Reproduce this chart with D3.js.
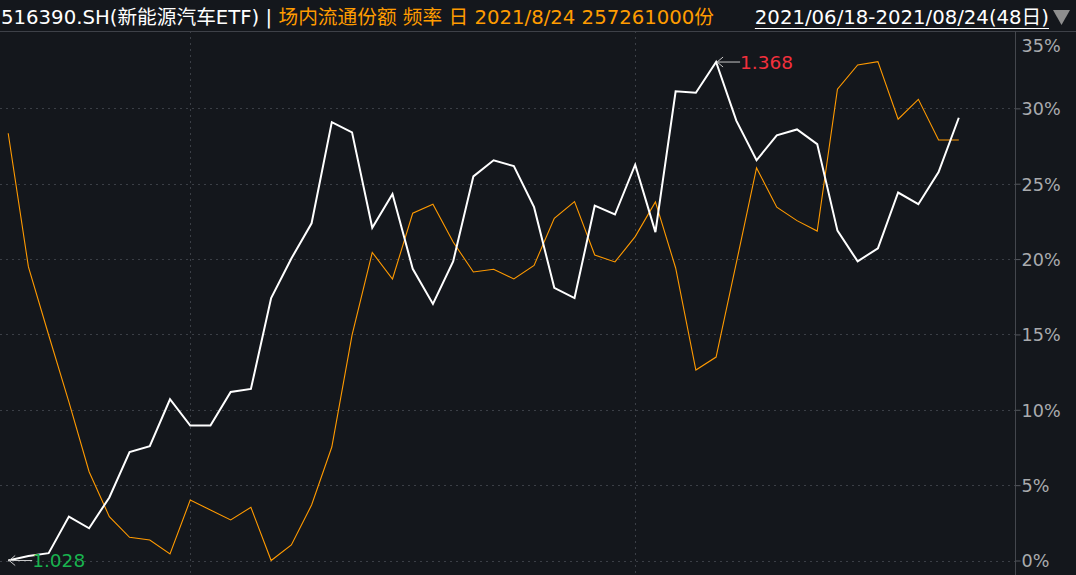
<!DOCTYPE html>
<html>
<head>
<meta charset="utf-8">
<script src="https://cdn.jsdelivr.net/npm/d3@7"></script>
<style>
  html, body { margin: 0; padding: 0; background: #14171c; }
  svg { display: block; }
</style>
</head>
<body>
<svg id="chart" width="1076" height="575"></svg>
<script>
// ---------------- data ----------------
const dates = [
  "2021-06-18","2021-06-21","2021-06-22","2021-06-23","2021-06-24","2021-06-25","2021-06-28","2021-06-29","2021-06-30",
  "2021-07-01","2021-07-02","2021-07-05","2021-07-06","2021-07-07","2021-07-08","2021-07-09","2021-07-12","2021-07-13",
  "2021-07-14","2021-07-15","2021-07-16","2021-07-19","2021-07-20","2021-07-21","2021-07-22","2021-07-23","2021-07-26",
  "2021-07-27","2021-07-28","2021-07-29","2021-07-30","2021-08-02","2021-08-03","2021-08-04","2021-08-05","2021-08-06",
  "2021-08-09","2021-08-10","2021-08-11","2021-08-12","2021-08-13","2021-08-16","2021-08-17","2021-08-18","2021-08-19",
  "2021-08-20","2021-08-23","2021-08-24"
];
// ETF close price (white line, shown as % change from the first close)
const closePrice = [
  1.028,1.031,1.033,1.058,1.050,1.071,1.102,1.106,1.138,
  1.120,1.120,1.143,1.145,1.207,1.234,1.258,1.327,1.320,
  1.255,1.278,1.227,1.203,1.232,1.290,1.301,1.297,1.269,
  1.214,1.207,1.270,1.264,1.298,1.252,1.348,1.347,1.368,
  1.328,1.301,1.318,1.322,1.312,1.253,1.232,1.241,1.279,
  1.271,1.293,1.330
];
// 场内流通份额 (orange line), expressed in right-axis % position
const sharesScaled = [
  28.35,19.48,14.96,10.52,5.89,2.91,1.54,1.36,0.43,
  4.01,3.35,2.69,3.53,0.0,1.03,3.68,7.53,14.96,
  20.44,18.68,23.04,23.64,21.13,19.14,19.32,18.68,19.58,
  22.71,23.81,20.27,19.81,21.49,23.79,19.41,12.64,13.50,
  19.74,26.05,23.44,22.55,21.86,31.27,32.88,33.10,29.28,
  30.60,27.90,27.90
];
const yTicks = [0,5,10,15,20,25,30,35];
const titleMain = "516390.SH(新能源汽车ETF) | ";
const titleSub = "场内流通份额 频率 日 2021/8/24 257261000份";
const rangeLabel = "2021/06/18-2021/08/24(48日)";

// ---------------- chart ----------------
const W = 1076, H = 575;
const plotLeft = 0, plotRight = 1015, plotTop = 31;
const svg = d3.select("#chart");
const FONT = "'DejaVu Sans','Noto Sans CJK SC',sans-serif";

svg.append("rect").attr("width", W).attr("height", H).attr("fill", "#14171c");

const x = d3.scaleLinear().domain([0, dates.length - 1]).range([8.2, 958.8]);
const y = d3.scaleLinear().domain([0, 35]).range([560.5, 33]);

const base = closePrice[0];
const pct = closePrice.map(p => (p / base - 1) * 100);

// horizontal dotted grid
const gridColor = "#3b3f46";
svg.append("g").selectAll("line").data(yTicks.filter(t => t < 35)).join("line")
  .attr("x1", plotLeft).attr("x2", plotRight)
  .attr("y1", d => Math.round(y(d)) + 0.5).attr("y2", d => Math.round(y(d)) + 0.5)
  .attr("stroke", gridColor).attr("stroke-width", 1).attr("stroke-dasharray", "2,4");

// vertical dotted grid at month starts
const monthStarts = dates.map((d, i) => i).filter(i => i > 0 && dates[i].slice(5,7) !== dates[i-1].slice(5,7));
svg.append("g").selectAll("line").data(monthStarts).join("line")
  .attr("x1", d => Math.round(x(d)) + 0.5).attr("x2", d => Math.round(x(d)) + 0.5)
  .attr("y1", plotTop).attr("y2", H)
  .attr("stroke", gridColor).attr("stroke-width", 1).attr("stroke-dasharray", "2,4");

// top separator and right axis line
svg.append("line").attr("x1", 0).attr("x2", W).attr("y1", 31.5).attr("y2", 31.5)
  .attr("stroke", "#3e4148").attr("stroke-width", 1);
svg.append("line").attr("x1", plotRight + 0.5).attr("x2", plotRight + 0.5).attr("y1", 31).attr("y2", H)
  .attr("stroke", "#44474d").attr("stroke-width", 1);

// right axis via d3.axisRight
const axis = d3.axisRight(y).tickValues(yTicks).tickSize(5).tickPadding(1)
  .tickFormat(d => d + "%");
const ag = svg.append("g").attr("transform", `translate(${plotRight + 0.5},0)`).call(axis);
ag.select(".domain").remove();
ag.selectAll(".tick line").attr("stroke", "#55585e");
ag.selectAll(".tick text").attr("fill", "#a9abae").attr("font-family", FONT)
  .attr("font-size", 17.6).attr("dy", "0.36em");
ag.selectAll(".tick").filter(d => d === 35).select("text").attr("dy", "1.05em");
ag.selectAll(".tick").filter(d => d === 35).select("line").remove();

// lines
const lineGen = d3.line().x((d, i) => x(i)).y(d => y(d));
svg.append("path").datum(sharesScaled).attr("d", lineGen)
  .attr("fill", "none").attr("stroke", "#ff9a00").attr("stroke-width", 1.1);
svg.append("path").datum(pct).attr("d", lineGen)
  .attr("fill", "none").attr("stroke", "#ffffff").attr("stroke-width", 2)
  .attr("stroke-linejoin", "miter");

// annotations: min and max
function annotate(i, label, color) {
  const px = x(i), py = y(pct[i]);
  const g = svg.append("g");
  g.append("line").attr("x1", px + 1).attr("x2", px + 24).attr("y1", py).attr("y2", py)
    .attr("stroke", "#c8c8c8").attr("stroke-width", 1);
  g.append("path").attr("d", `M${px + 7},${py - 5} L${px + 1},${py} L${px + 7},${py + 5}`)
    .attr("fill", "none").attr("stroke", "#c8c8c8").attr("stroke-width", 1);
  g.append("text").attr("x", px + 24).attr("y", py).attr("dy", "0.36em")
    .attr("fill", color).attr("font-family", FONT).attr("font-size", 18.5).text(label);
}
const iMax = d3.maxIndex(closePrice), iMin = d3.minIndex(closePrice);
annotate(iMax, closePrice[iMax].toFixed(3), "#f2303c");
annotate(iMin, closePrice[iMin].toFixed(3), "#19b34f");

// title
const t = svg.append("text").attr("x", 1).attr("y", 24)
  .attr("font-family", FONT).attr("font-size", 19.7);
t.append("tspan").attr("fill", "#ffffff").text(titleMain);
t.append("tspan").attr("fill", "#ff9c00").text(titleSub);

const rt = svg.append("text").attr("x", 1049).attr("y", 24).attr("text-anchor", "end")
  .attr("font-family", FONT).attr("font-size", 19.7).attr("fill", "#ffffff").text(rangeLabel);
const bb = rt.node().getBBox();
svg.append("line").attr("x1", bb.x).attr("x2", bb.x + bb.width).attr("y1", 28.5).attr("y2", 28.5)
  .attr("stroke", "#ffffff").attr("stroke-width", 1);
svg.append("path").attr("d", "M1053,10 L1070,10 L1061.5,25 Z").attr("fill", "#8e8e8e");
</script>
</body>
</html>
